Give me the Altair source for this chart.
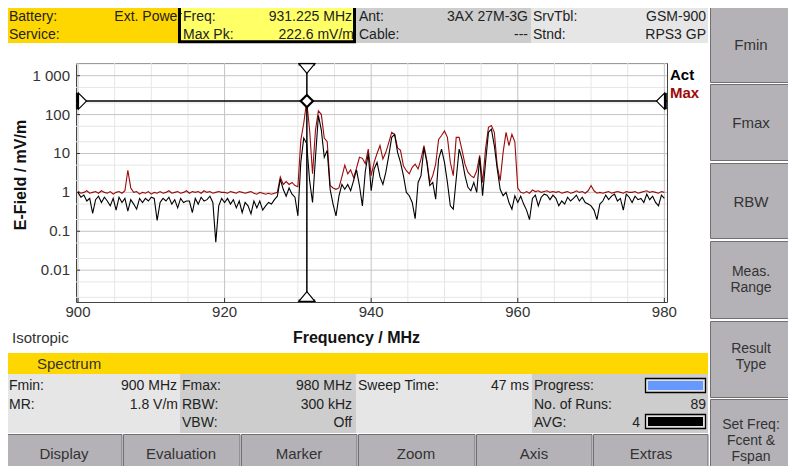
import altair as alt
import pandas as pd

# ---------------- data ----------------
FREQ_START = 900.0
FREQ_STEP = 0.4

ACT = [
    1.0, 0.75, 0.85, 0.6, 0.7, 0.29, 0.65, 0.8, 0.55, 0.75,
    0.6, 0.45, 0.7, 0.35, 0.75, 0.55, 0.7, 0.33, 0.65, 0.5,
    0.37, 0.7, 0.55, 0.7, 0.6, 0.75, 0.7, 0.19, 0.55, 0.7,
    0.6, 0.75, 0.5, 0.65, 0.4, 0.7, 0.55, 0.6, 0.6, 0.3,
    0.7, 0.5, 0.75, 0.6, 0.65, 0.8, 0.55, 0.052, 0.45, 0.7,
    0.55, 0.7, 0.5, 0.65, 0.4, 0.6, 0.3, 0.55, 0.45, 0.28,
    0.6, 0.4, 0.6, 0.35, 0.45, 0.55, 0.5, 0.65, 0.8, 2.2,
    1.2, 0.8, 1.3, 0.9, 0.75, 0.25, 6.0, 25, 18, 2.0,
    0.55, 8.0, 95, 40, 8.0, 12, 1.2, 0.5, 0.25, 0.8,
    1.6, 1.2, 1.6, 1.1, 2.0, 3.8, 1.5, 0.45, 3.5, 10,
    1.1, 4.0, 5.9, 2.5, 1.6, 3.3, 8.8, 26, 31, 10.7,
    5.9, 2.7, 1.0, 0.82, 0.55, 0.21, 1.8, 2.7, 14, 5.9,
    1.5, 1.8, 0.67, 7.2, 13, 5.9, 1.8, 0.45, 0.37, 2.2,
    13, 7.2, 2.7, 1.35, 1.1, 1.8, 1.0, 8.0, 0.82, 5.9,
    35, 42, 16, 4.0, 1.2, 0.82, 1.0, 0.55, 0.37, 0.82,
    0.55, 0.8, 0.5, 0.35, 0.2, 0.7, 0.85, 0.45, 0.75, 0.9,
    0.85, 0.65, 0.85, 0.7, 0.45, 0.6, 0.5, 0.75, 0.6, 0.7,
    0.85, 0.6, 0.75, 0.55, 0.5, 0.45, 0.35, 0.2, 0.5, 0.6,
    0.85, 0.65, 0.8, 0.9, 0.6, 0.7, 0.35, 0.9, 0.75, 0.55,
    0.8, 0.65, 0.7, 0.55, 0.9, 0.65, 0.8, 0.55, 0.45, 0.85,
    0.7,
]

MAX = [
    1.05, 0.95, 1.0, 1.1, 0.95, 1.0, 1.05, 0.95, 1.1, 1.0,
    0.95, 1.05, 0.9, 1.0, 1.05, 0.95, 1.1, 3.7, 1.3, 1.0,
    1.05, 0.9, 1.0, 0.95, 1.05, 0.9, 1.0, 0.95, 1.05, 0.95,
    1.0, 1.1, 0.95, 1.0, 1.05, 0.95, 1.0, 1.1, 0.95, 1.05,
    1.0, 1.05, 0.95, 1.1, 1.0, 1.05, 0.95, 1.0, 1.05, 1.0,
    1.0, 0.95, 1.05, 1.0, 0.95, 1.05, 1.0, 0.95, 1.0, 1.05,
    0.95, 0.9, 1.0, 0.95, 0.9, 0.95, 0.9, 0.95, 1.0, 2.5,
    1.6, 1.9, 1.6, 1.8, 1.5, 1.4, 22, 60, 222.6, 40,
    3.0, 40, 125, 100, 25, 20, 1.5, 1.3, 1.2, 1.3,
    2.5, 5.0, 3.0, 3.8, 2.4, 4.2, 8.0, 7.5, 5.5, 13,
    2.7, 5.9, 10, 16, 7.2, 10.7, 19, 35, 31, 14,
    12, 4.8, 3.6, 3.0, 4.4, 5.3, 4.0, 7.2, 16, 6.5,
    1.8, 2.7, 5.3, 23, 29, 38, 26, 5.9, 2.7, 26,
    26, 12, 5.3, 3.3, 2.7, 2.4, 3.6, 9.0, 1.8, 13,
    47, 52, 35, 4.8, 2.0, 10.7, 35, 16, 31, 20,
    1.3, 1.0, 0.95, 1.05, 0.95, 1.15, 1.05, 1.1, 1.0, 1.05,
    1.1, 1.0, 1.05, 1.0, 1.05, 0.95, 1.0, 1.05, 0.95, 1.0,
    1.1, 1.0, 1.05, 0.95, 1.1, 1.5, 1.1, 0.95, 1.0, 0.95,
    1.0, 1.05, 0.95, 1.0, 1.05, 1.0, 0.95, 1.05, 1.0, 1.0,
    1.05, 0.95, 1.0, 1.05, 1.1, 1.0, 1.05, 1.0, 0.95, 1.05,
    1.0,
]

MARKER_FREQ = 931.225
MARKER_LEVEL = 222.6

X_MAJOR = [900, 920, 940, 960, 980]
X_LABELS = ["900", "920", "940", "960", "980"]
X_MINOR = [905, 910, 915, 925, 930, 935, 945, 950, 955, 965, 970, 975]
Y_MAJOR = [0.01, 0.1, 1, 10, 100, 1000]
Y_LABELS = ["0.01", "0.1", "1", "10", "100", "1 000"]
Y_MINOR = [0.002, 0.005, 0.02, 0.05, 0.2, 0.5, 2, 5, 20, 50, 200, 500, 2000]

# ---------------- layout / styling ----------------
OX, OY = 76, 63          # page position of plot origin
W, H = 591, 239
FONT = "Liberation Sans"
YEL = "#FFD700"
LGRAY = "#E6E6E6"
DGRAY = "#CDCDCD"
BTN = "#B4B2B7"
EDGE = "#707070"
RED = "#9B0A0A"
TXT = "#222222"

freq = [round(FREQ_START + FREQ_STEP * i, 1) for i in range(len(ACT))]
act_df = pd.DataFrame({"freq": freq, "val": ACT})
max_df = pd.DataFrame({"freq": freq, "val": MAX})

xs = alt.Scale(domain=[899.727, 980.36], nice=False, zero=False)
ys = alt.Scale(type="log", domain=[0.00152, 2120], nice=False)


def R(x1, y1, x2, y2, fill, stroke=None, sw=0):
    return dict(x=x1 - OX, x2=x2 - OX, y=y1 - OY, y2=y2 - OY,
                fill=fill, stroke=stroke or fill, sw=sw)


rects = [
    R(5, 3, 179, 43, YEL),
    R(179, 1.5, 355, 42.5, "#FFFF66"),
    R(356, 3, 531, 43, DGRAY),
    R(531, 3, 708, 43, LGRAY),
    # right column buttons
    R(710.5, 2.5, 796, 82.5, BTN, EDGE, 1),
    R(710.5, 84.5, 796, 160.5, BTN, EDGE, 1),
    R(710.5, 163.5, 796, 238.5, BTN, EDGE, 1),
    R(710.5, 241.5, 796, 318.5, BTN, EDGE, 1),
    R(710.5, 321.5, 796, 397.5, BTN, EDGE, 1),
    R(710.5, 399.5, 796, 480, BTN, EDGE, 1),
    # bottom status area
    R(5, 353, 708, 374, YEL),
    R(5, 374, 180, 433, LGRAY),
    R(180, 374, 356, 433, DGRAY),
    R(356, 374, 532, 433, LGRAY),
    R(532, 374, 708, 433, DGRAY),
    R(645.5, 378.5, 705.5, 392.5, "#E0E0E0", "#000000", 1.3),
    R(648, 381, 703, 390, "#6699FF"),
    R(645.5, 414.5, 705.5, 428.5, "#E0E0E0", "#000000", 1.3),
    R(648, 417, 703, 426, "#000000"),
    # bottom buttons
    R(5.5, 434.5, 122, 480, BTN, EDGE, 1),
    R(123.5, 434.5, 240, 480, BTN, EDGE, 1),
    R(241.5, 434.5, 357, 480, BTN, EDGE, 1),
    R(358.5, 434.5, 475, 480, BTN, EDGE, 1),
    R(476.5, 434.5, 592, 480, BTN, EDGE, 1),
    R(593.5, 434.5, 708, 480, BTN, EDGE, 1),
]
rect_df = pd.DataFrame(rects)


def T(x, y, text, align="left", fs=14, color=TXT, bold=False):
    return dict(x=x - OX, y=y - OY, text=text, align=align, fs=fs,
                color=color, bold=bold)


R1, R2 = 21, 38.5
texts = [
    T(9, R1, "Battery:"), T(182, R1, "Ext. Power", "right"), T(9, R2, "Service:"),
    T(183, R1, "Freq:"), T(352, R1, "931.225 MHz", "right"),
    T(183, R2, "Max Pk:"), T(354, R2, "222.6 mV/m", "right"),
    T(359, R1, "Ant:"), T(528, R1, "3AX 27M-3G", "right"),
    T(359, R2, "Cable:"), T(528, R2, "---", "right"),
    T(533, R1, "SrvTbl:"), T(706, R1, "GSM-900", "right"),
    T(533, R2, "Stnd:"), T(706, R2, "RPS3 GP", "right"),
    # right buttons
    T(751, 50, "Fmin", "center", 15, "#333333"),
    T(751, 128, "Fmax", "center", 15, "#333333"),
    T(751, 207, "RBW", "center", 15, "#333333"),
    T(751, 276, "Meas.", "center", 14, "#333333"),
    T(751, 292, "Range", "center", 14, "#333333"),
    T(751, 353, "Result", "center", 14, "#333333"),
    T(751, 369, "Type", "center", 14, "#333333"),
    T(751, 429, "Set Freq:", "center", 14, "#333333"),
    T(751, 445, "Fcent &", "center", 14, "#333333"),
    T(751, 461, "Fspan", "center", 14, "#333333"),
    # plot side texts
    T(670, 80, "Act", "left", 15, "#000000", True),
    T(670, 98, "Max", "left", 15, RED, True),
    T(12, 343, "Isotropic", "left", 15, "#333333"),
    # status area
    T(37, 369, "Spectrum", "left", 15, "#333333"),
    T(9, 390, "Fmin:"), T(177, 390, "900 MHz", "right"),
    T(9, 408.5, "MR:"), T(178, 408.5, "1.8 V/m", "right"),
    T(182, 390, "Fmax:"), T(352, 390, "980 MHz", "right"),
    T(182, 408.5, "RBW:"), T(352, 408.5, "300 kHz", "right"),
    T(182, 427, "VBW:"), T(352, 427, "Off", "right"),
    T(358, 390, "Sweep Time:"), T(529, 390, "47 ms", "right"),
    T(534, 390, "Progress:"),
    T(534, 408.5, "No. of Runs:"), T(706, 408.5, "89", "right"),
    T(534, 427, "AVG:"), T(640, 427, "4", "right"),
    # bottom buttons
    T(64, 459, "Display", "center", 15, "#333333"),
    T(181, 459, "Evaluation", "center", 15, "#333333"),
    T(299, 459, "Marker", "center", 15, "#333333"),
    T(416, 459, "Zoom", "center", 15, "#333333"),
    T(534, 459, "Axis", "center", 15, "#333333"),
    T(651, 459, "Extras", "center", 15, "#333333"),
]
text_df = pd.DataFrame(texts)

# ---------------- layers ----------------
px = lambda f: alt.X(f, scale=None, axis=None)
py = lambda f: alt.Y(f, scale=None, axis=None)
sx = lambda f: alt.X(f, scale=xs, axis=None)
sy = lambda f: alt.Y(f, scale=ys, axis=None)

bg = alt.Chart(rect_df).mark_rect().encode(
    x=px("x:Q"), x2="x2:Q", y=py("y:Q"), y2="y2:Q",
    fill=alt.Fill("fill:N", scale=None),
    stroke=alt.Stroke("stroke:N", scale=None),
    strokeWidth=alt.StrokeWidth("sw:Q", scale=None),
)


def grid_x(vals, color):
    return alt.Chart(pd.DataFrame({"gx": vals})).mark_rule(color=color, strokeWidth=1).encode(
        x=sx("gx:Q"))


def grid_y(vals, color):
    return alt.Chart(pd.DataFrame({"gy": vals})).mark_rule(color=color, strokeWidth=1).encode(
        y=sy("gy:Q"))


ydf = pd.DataFrame({"v": Y_MAJOR, "lab": Y_LABELS})
xdf = pd.DataFrame({"v": X_MAJOR, "lab": X_LABELS})

y_ticks = alt.Chart(ydf).mark_rule(color="#333333", strokeWidth=1).encode(
    y=sy("v:Q"), x=alt.value(0), x2=alt.value(4))
x_ticks = alt.Chart(xdf).mark_rule(color="#333333", strokeWidth=1).encode(
    x=sx("v:Q"), y=alt.value(H - 4), y2=alt.value(H + 1))

y_labels = alt.Chart(ydf).mark_text(align="right", baseline="middle", font=FONT,
                                    fontSize=15, color="#333333").encode(
    y=sy("v:Q"), x=alt.value(-6), text="lab:N")
x_labels = alt.Chart(xdf).mark_text(align="center", baseline="top", font=FONT,
                                    fontSize=15, color="#333333").encode(
    x=sx("v:Q"), y=alt.value(H + 3), text="lab:N")

title_df = pd.DataFrame({"t": ["Frequency / MHz"], "u": ["E-Field / mV/m"]})
x_title = alt.Chart(title_df).mark_text(align="center", baseline="alphabetic", font=FONT,
                                        fontSize=16, fontWeight="bold", color="#111111").encode(
    x=alt.value(356.5 - OX), y=alt.value(343 - OY), text="t:N")
y_title = alt.Chart(title_df).mark_text(align="center", baseline="middle", font=FONT,
                                        fontSize=16, fontWeight="bold", color="#111111",
                                        angle=270).encode(
    x=alt.value(21 - OX), y=alt.value(175 - OY), text="u:N")

max_line = alt.Chart(max_df).mark_line(color=RED, strokeWidth=1.1).encode(
    x=sx("freq:Q"), y=sy("val:Q"))
act_line = alt.Chart(act_df).mark_line(color="#000000", strokeWidth=1.1).encode(
    x=sx("freq:Q"), y=sy("val:Q"))

mk_df = pd.DataFrame({"mf": [MARKER_FREQ], "ml": [MARKER_LEVEL]})
mk = alt.Chart(mk_df)
h_rule = mk.mark_rule(color="#000000", strokeWidth=1.5).encode(y=sy("ml:Q"))
v_rule = mk.mark_rule(color="#000000", strokeWidth=1.5).encode(x=sx("mf:Q"))

TRI_R = "M -0.5 -1 L 0.5 0 L -0.5 1 Z"
TRI_L = "M 0.5 -1 L -0.5 0 L 0.5 1 Z"
TRI_D = "M -1 -0.6 L 1 -0.6 L 0 0.6 Z"
TRI_U = "M -1 0.6 L 1 0.6 L 0 -0.6 Z"
BAR_V = "M -0.12 -1 L 0.12 -1 L 0.12 1 L -0.12 1 Z"
BAR_H = "M -1 -0.12 L 1 -0.12 L 1 0.12 L -1 0.12 Z"


def sym(shape, fill, xenc, yenc, size=256, sw=1.2):
    return mk.mark_point(shape=shape, filled=True, fill=fill, stroke="#000000",
                         strokeWidth=sw, size=size, opacity=1).encode(x=xenc, y=yenc)


ymk = sy("ml:Q")
xmk = sx("mf:Q")
markers = [
    sym(BAR_V, "#000000", alt.value(1.3), ymk, 256, 0.5),
    sym(TRI_R, "#FFFFFF", alt.value(6.5), ymk),
    sym(BAR_V, "#000000", alt.value(589.7), ymk, 256, 0.5),
    sym(TRI_L, "#FFFFFF", alt.value(584.5), ymk),
    sym(BAR_H, "#000000", xmk, alt.value(1.3), 256, 0.5),
    sym(TRI_D, "#FFFFFF", xmk, alt.value(5.5)),
    sym(BAR_H, "#000000", xmk, alt.value(237.7), 256, 0.5),
    sym(TRI_U, "#FFFFFF", xmk, alt.value(233.5)),
    sym("diamond", "#FFFFFF", xmk, ymk, 150, 2.2),
]

text_layers = []
for (al, bold), sub in text_df.groupby(["align", "bold"]):
    text_layers.append(
        alt.Chart(sub.drop(columns=["align", "bold"])).mark_text(
            align=al, baseline="alphabetic", font=FONT,
            fontWeight="bold" if bold else "normal").encode(
            x=px("x:Q"), y=py("y:Q"), text="text:N",
            color=alt.Color("color:N", scale=None),
            size=alt.Size("fs:Q", scale=None)))

freq_box = alt.Chart(mk_df).mark_rect(fillOpacity=0, stroke="#000000", strokeWidth=3).encode(
    x=alt.value(179.5 - OX), x2=alt.value(354.5 - OX),
    y=alt.value(1.5 - OY), y2=alt.value(41.8 - OY))

chart = alt.layer(
    bg,
    grid_y(Y_MINOR, "#E6E6E6"), grid_x(X_MINOR, "#E6E6E6"),
    grid_y(Y_MAJOR, "#C4C4C4"), grid_x(X_MAJOR, "#C4C4C4"),
    y_ticks, x_ticks, y_labels, x_labels, x_title, y_title,
    max_line, act_line, h_rule, v_rule, *markers, *text_layers, freq_box,
).properties(
    width=W, height=H,
    autosize=alt.AutoSizeParams(type="none"),
    padding={"left": OX - 8, "top": OY - 8, "right": 780 - (OX - 8) - W,
             "bottom": 458 - (OY - 8) - H},
    background="white",
).configure_view(fill="white", stroke="#444444", strokeWidth=1)

chart.save("out.html", embed_options={"renderer": "svg", "actions": False})
